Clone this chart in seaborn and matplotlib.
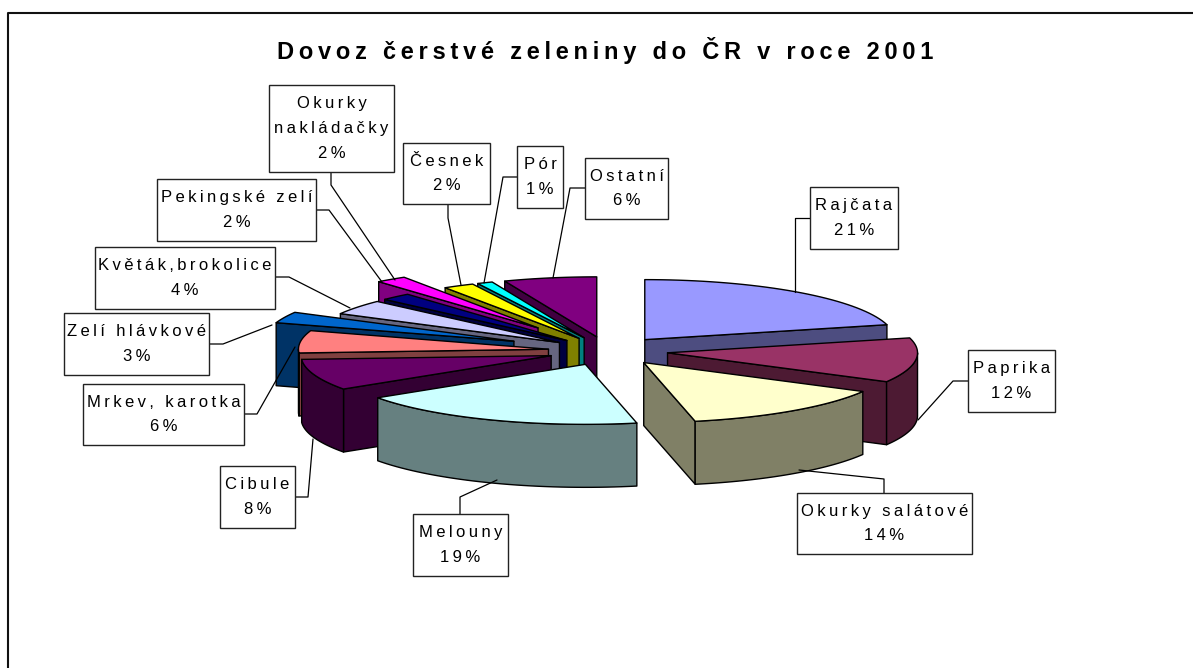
import numpy as np
import matplotlib
matplotlib.use("Agg")
import matplotlib.pyplot as plt
from matplotlib.patches import Rectangle
import seaborn as sns

# values (percent), clockwise from 12 o'clock
categories = ["Rajčata", "Paprika", "Okurky salátové", "Melouny", "Cibule",
              "Mrkev, karotka", "Zelí hlávkové", "Květák,brokolice",
              "Pekingské zelí", "Okurky\nnakládačky", "Česnek", "Pór", "Ostatní"]
shares = [21, 12, 13.7, 18.9, 8.4, 6, 3, 4, 2, 2, 2, 1, 6]
title = "Dovoz čerstvé zeleniny do ČR v roce 2001"

colors = ["#9999FF", "#993366", "#FFFFCC", "#CCFFFF", "#660066", "#FF8080", "#0066CC",
          "#CCCCFF", "#000080", "#FF00FF", "#FFFF00", "#00FFFF", "#800080"]
explode = [.24, .24, .24, .24, .24, .24, .41, .24, .24, .476, .24, .24, .24]

# label boxes: left, right, top, bottom (pixels)
boxes = [(810, 898, 187, 249), (968, 1055, 350, 412), (797, 972, 493, 554), (413, 508, 514, 576),
         (220, 295, 466, 528), (83, 244, 384, 445), (64, 209, 313, 375), (95, 275, 247, 309),
         (157, 316, 179, 241), (269, 394, 85, 172), (403, 490, 143, 204), (517, 563, 146, 208),
         (585, 668, 158, 219)]
# leader lines
leaders = [[(810, 218), (795, 218), (795, 292)],
           [(968, 381), (953, 381), (918, 420)],
           [(884, 493), (884, 479), (799, 470)],
           [(460, 514), (460, 497), (497, 480)],
           [(293, 497), (308, 497), (313, 439)],
           [(243, 414), (257, 414), (295, 347)],
           [(208, 344), (223, 344), (272, 325)],
           [(275, 277), (289, 277), (350, 308)],
           [(316, 210), (329, 210), (382, 282)],
           [(331, 172), (331, 185), (395, 280)],
           [(448, 204), (448, 218), (461, 285)],
           [(517, 177), (503, 177), (484, 283)],
           [(585, 188), (570, 188), (553, 278)]]

sns.set_theme(style="white")
plt.rcParams['font.family'] = ['Liberation Sans', 'DejaVu Sans']

CX, CY = 608, 351
RX, RY = 250, 60
DEPTH = 63
THIN = "\u2009"


def spaced(text, gap):
    return "\n".join(gap.join(line) for line in text.split("\n"))


def rim(cx, cy, a, b):
    t = np.radians(np.linspace(a, b, 40))
    return cx + RX * np.sin(t), cy - RY * np.cos(t)


def draw_slice(ax, a, b, ex, color):
    mid = np.radians((a + b) / 2)
    cx = CX + ex * RX * np.sin(mid)
    cy = CY - ex * RY * np.cos(mid)
    dark = tuple(c * .5 for c in matplotlib.colors.to_rgb(color))
    kw = dict(facecolor=dark, edgecolor="black", linewidth=1, joinstyle="round")

    # radial walls, only the ones facing the viewer
    for ang, sign in ((a, -1), (b, 1)):
        if sign * np.sin(np.radians(ang)) > 1e-6:
            px, py = rim(cx, cy, ang, ang)
            ax.fill([cx, px[0], px[0], cx], [cy, py[0], py[0] + DEPTH, cy + DEPTH], **kw)
    # outer wall, front half only
    lo, hi = max(a, 90), min(b, 270)
    if lo < hi:
        x, y = rim(cx, cy, lo, hi)
        ax.fill(np.r_[x, x[::-1]], np.r_[y, y[::-1] + DEPTH], **kw)
    # top face
    x, y = rim(cx, cy, a, b)
    ax.fill(np.r_[cx, x], np.r_[cy, y], facecolor=color, edgecolor="black",
            linewidth=1, joinstyle="round")


fig = plt.figure(figsize=(11.93, 6.68), dpi=100)
ax = fig.add_axes([0, 0, 1, 1])
ax.set_xlim(0, 1193)
ax.set_ylim(668, 0)
ax.axis("off")

palette = sns.color_palette(colors)
edges = np.r_[0, np.cumsum(shares)] * 3.6
n = len(shares)

# back to front
for i in [0, 1, 2] + list(range(n - 1, 2, -1)):
    draw_slice(ax, edges[i], edges[i + 1], explode[i], palette[i])

for name, share, box, line in zip(categories, shares, boxes, leaders):
    xs, ys = zip(*line)
    ax.plot(xs, ys, color="black", linewidth=.9)
    l, r, t, b = box
    ax.add_patch(Rectangle((l, t), r - l, b - t, facecolor="white", edgecolor="#222222", linewidth=1, zorder=5))
    ax.text((l + r) / 2, (t + b) / 2, spaced(f"{name}\n{round(share)}%", THIN), ha="center", va="center",
            fontsize=12, linespacing=1.8, color="black", zorder=6)

ax.text(605, 51, spaced(title, THIN), ha="center", va="center", fontsize=17, fontweight="bold", color="black")

# frame, only top and left show
ax.plot([8, 8, 1193], [668, 13, 13], color="#111111", linewidth=1.5)

fig.savefig("out.png", dpi=100)
